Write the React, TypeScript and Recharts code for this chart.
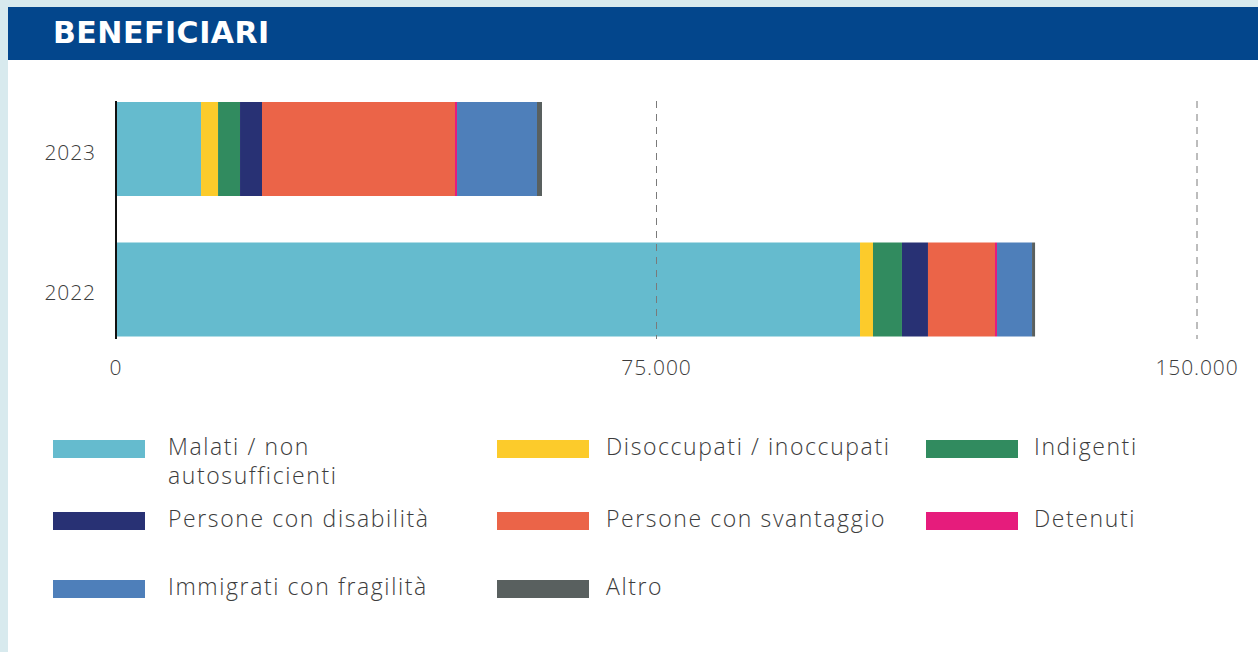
import { BarChart, Bar, XAxis, YAxis, ReferenceLine } from "recharts";

const years = ["2023", "2022"];

const seriesNames = [
  "Malati / non autosufficienti",
  "Disoccupati / inoccupati",
  "Indigenti",
  "Persone con disabilità",
  "Persone con svantaggio",
  "Detenuti",
  "Immigrati con fragilità",
  "Altro",
];
const seriesColors = [
  "#65bbce",
  "#fccb2b",
  "#318b5f",
  "#283174",
  "#eb6448",
  "#e61c7c",
  "#4e7fba",
  "#59605f",
];

// values per year: [2023, 2022]
const malati = [11800, 103240];
const disoccupati = [2360, 1800];
const indigenti = [3050, 4020];
const disabilita = [3050, 3610];
const svantaggio = [26780, 9300];
const detenuti = [280, 280];
const immigrati = [11100, 4860];
const altro = [690, 420];

const seriesValues = [malati, disoccupati, indigenti, disabilita, svantaggio, detenuti, immigrati, altro];

const xTicks = [0, 75000, 150000];
const gridValues = [75000, 150000];

const data = years.map((year, i) => {
  const row: Record<string, string | number> = { year };
  seriesNames.forEach((name, s) => {
    row[name] = seriesValues[s][i];
  });
  return row;
});

const bodyFont = "'Open Sans', sans-serif";

const fmt = (v: number) => v.toLocaleString("de-DE");

// shortened vertical line (the original grid stops short of the plot edges)
const shortLine = (dash?: string, color = "#7a7a7a", w = 1) => (props: any) => (
  <line
    x1={props.x1}
    x2={props.x2}
    y1={Math.min(props.y1, props.y2) + 22}
    y2={Math.max(props.y1, props.y2) - 21}
    stroke={color}
    strokeWidth={w}
    strokeDasharray={dash}
  />
);

const tickStyle = {
  fill: "#3c3c3c",
  fontSize: 21,
  fontFamily: bodyFont,
  fontWeight: 300,
  letterSpacing: 0.9,
};

// legend layout: 3 columns
const legendCols = [53, 497, 926];
const legendTextX = [168, 606, 1034];
const legendRows = [440, 512, 580];

export default function App() {
  return (
    <div
      style={{
        position: "absolute",
        left: 0,
        top: 0,
        width: 1258,
        height: 652,
        background: "#d8eaee",
        overflow: "hidden",
        fontFamily: bodyFont,
      }}
    >
      <div
        style={{
          position: "absolute",
          left: 8,
          top: 7,
          width: 1250,
          height: 645,
          background: "#ffffff",
        }}
      />
      <div
        style={{
          position: "absolute",
          left: 8,
          top: 7,
          width: 1250,
          height: 53,
          background: "#03468c",
        }}
      >
        <div
          style={{
            position: "absolute",
            left: 45,
            top: 8,
            color: "#ffffff",
            fontFamily: "'DejaVu Sans', sans-serif",
            fontWeight: 700,
            fontSize: 30,
            letterSpacing: 0.5,
            lineHeight: "36px",
          }}
        >
          BENEFICIARI
        </div>
      </div>

      <div style={{ position: "absolute", left: 0, top: 0 }}>
        <BarChart
          width={1258}
          height={400}
          data={data}
          layout="vertical"
          margin={{ top: 79, right: 61, bottom: 10, left: 16 }}
          barSize={94}
        >
          <XAxis
            type="number"
            domain={[0, 150000]}
            ticks={xTicks}
            tickFormatter={fmt}
            axisLine={false}
            tickLine={false}
            tickSize={0}
            tickMargin={0}
            tick={tickStyle}
            height={30}
          />
          <YAxis
            type="category"
            dataKey="year"
            width={100}
            axisLine={false}
            tickLine={false}
            tickSize={6}
            tickMargin={14}
            tick={{ ...tickStyle, dy: 3 }}
          />
          {seriesNames.map((name, s) => (
            <Bar
              key={name}
              dataKey={name}
              stackId="a"
              fill={seriesColors[s]}
              isAnimationActive={false}
            />
          ))}
          {gridValues.map((v) => (
            <ReferenceLine key={v} x={v} shape={shortLine("7 6")} />
          ))}
          <ReferenceLine x={0} shape={shortLine(undefined, "#111111", 2)} />
        </BarChart>
      </div>

      {seriesNames.map((name, s) => {
        const col = s % 3;
        const row = Math.floor(s / 3);
        const sx = legendCols[col];
        const sy = legendRows[row];
        const wrap = col === 0 && row === 0;
        return (
          <div key={name}>
            <div
              style={{
                position: "absolute",
                left: sx,
                top: sy,
                width: 92,
                height: 18,
                background: seriesColors[s],
              }}
            />
            <div
              style={{
                position: "absolute",
                left: legendTextX[col],
                top: sy - 8,
                width: wrap ? 220 : 400,
                whiteSpace: wrap ? "normal" : "nowrap",
                color: "#3c3c3c",
                fontSize: 23,
                fontWeight: 300,
                letterSpacing: 1.6,
                lineHeight: "29px",
              }}
            >
              {name}
            </div>
          </div>
        );
      })}
    </div>
  );
}
